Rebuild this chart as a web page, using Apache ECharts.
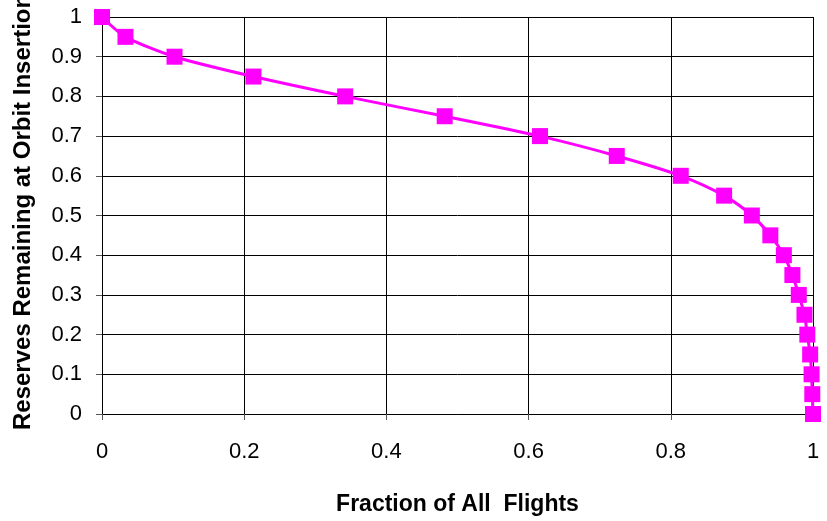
<!DOCTYPE html>
<html>
<head>
<meta charset="utf-8">
<script src="https://cdn.jsdelivr.net/npm/echarts@6/dist/echarts.min.js"></script>
<style>
html,body{margin:0;padding:0;background:#fff;}
#chart{width:827px;height:521px;}
</style>
</head>
<body>
<div id="chart"></div>
<script>
// Data
const fractionOfFlights = [0, 0.033, 0.102, 0.213, 0.342, 0.482, 0.616, 0.724, 0.814, 0.875, 0.914, 0.940, 0.959, 0.971, 0.980, 0.988, 0.992, 0.996, 0.998, 0.999, 1.0];
const reservesRemaining = [1, 0.95, 0.9, 0.85, 0.8, 0.75, 0.7, 0.65, 0.6, 0.55, 0.5, 0.45, 0.4, 0.35, 0.3, 0.25, 0.2, 0.15, 0.1, 0.05, 0];
const xTitle = 'Fraction of All  Flights';
const yTitle = 'Reserves Remaining at Orbit Insertion';

const points = fractionOfFlights.map((x, i) => [x, reservesRemaining[i]]);
const FONT = '"Liberation Sans", Arial, sans-serif';

const chart = echarts.init(document.getElementById('chart'), null, {renderer: 'canvas'});
chart.setOption({
  animation: false,
  backgroundColor: '#ffffff',
  grid: {left: 102, right: 14, top: 17, bottom: 94, containLabel: false},
  xAxis: {
    type: 'value', min: 0, max: 1, interval: 0.2,
    name: xTitle, nameLocation: 'middle', nameGap: 79,
    nameTextStyle: {fontFamily: FONT, fontSize: 23, fontWeight: 'bold', color: '#000'},
    axisLine: {show: true, lineStyle: {color: '#000', width: 1}},
    axisTick: {show: true, inside: false, length: 6, lineStyle: {color: '#555'}},
    axisLabel: {margin: 27, fontFamily: FONT, fontSize: 22, color: '#000',
      formatter: v => String(Math.round(v * 10) / 10)},
    splitLine: {show: true, lineStyle: {color: '#000', width: 1}}
  },
  yAxis: {
    type: 'value', min: 0, max: 1, interval: 0.1,
    axisLine: {show: true, onZero: false, lineStyle: {color: '#000', width: 1}},
    axisTick: {show: true, length: 6, lineStyle: {color: '#555'}},
    axisLabel: {margin: 20, fontFamily: FONT, fontSize: 22, color: '#000',
      formatter: v => String(Math.round(v * 10) / 10)},
    splitLine: {show: true, lineStyle: {color: '#000', width: 1}}
  },
  graphic: [{
    type: 'text',
    x: 23, y: 430,
    rotation: Math.PI / 2,
    style: {
      text: yTitle,
      fontFamily: FONT, fontSize: 24, fontWeight: 'bold', fill: '#000',
      textAlign: 'left', textVerticalAlign: 'middle'
    }
  }],
  series: [{
    type: 'line',
    data: points,
    smooth: 0.25,
    symbol: 'rect',
    symbolSize: 16,
    lineStyle: {color: '#ff00ff', width: 3},
    itemStyle: {color: '#ff00ff'},
    clip: false
  }]
});
</script>
</body>
</html>
